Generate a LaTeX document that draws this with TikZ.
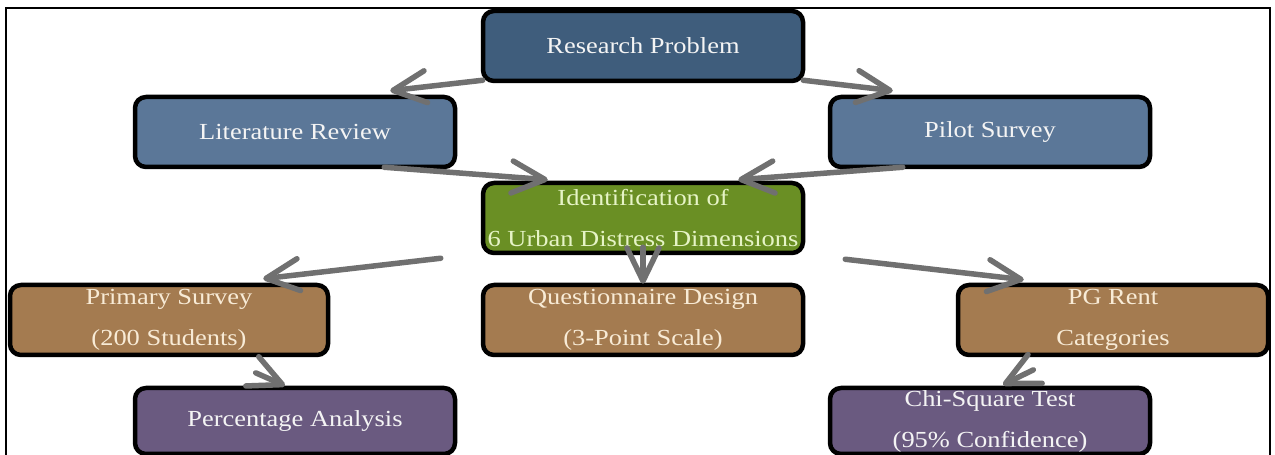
\documentclass[tikz,border=0pt]{standalone}
\usepackage{fontspec}
\setmainfont{Liberation Serif}[FakeStretch=1.15]
\usetikzlibrary{arrows.meta,calc}

\definecolor{problemblue}{HTML}{3F5D7C}
\definecolor{stepblue}{HTML}{5B7798}
\definecolor{idgreen}{HTML}{6A8F24}
\definecolor{surveybrown}{HTML}{A47B50}
\definecolor{analysispurple}{HTML}{6A5A80}
\definecolor{flowgray}{HTML}{707070}
\definecolor{paletext}{HTML}{F4F4F4}
\definecolor{greentext}{HTML}{E6F4C6}
\definecolor{beigetext}{HTML}{F8EBD6}

\begin{document}
\begin{tikzpicture}[x=1pt,y=1pt,
  box/.style={draw=black, line width=4.5pt, rounded corners=11pt,
    minimum width=320pt, minimum height=70pt, inner sep=0pt,
    align=center, font=\fontsize{23}{41}\selectfont, text=paletext},
  flow/.style={draw=flowgray, line width=5.5pt, line cap=round,
    -{Straight Barb[length=33pt,width=32pt,round]}}]

\useasboundingbox (0,0) rectangle (1275,455);
\fill[white] (0,0) rectangle (1275,455);
\begin{scope}
  \clip (0,0) rectangle (1275,455);
  \draw[line width=1.8pt] (6,-20) rectangle (1270,447);
\end{scope}

% process boxes
\node[box, fill=problemblue] (rp) at (643,409) {Research Problem};
\node[box, fill=stepblue] (lr) at (295,323) {Literature Review};
\node[box, fill=stepblue] (ps) at (990,323) {Pilot Survey};
\node[box, fill=idgreen, text=greentext] (id) at (643,237)
  {Identification of\\6 Urban Distress Dimensions};
\node[box, fill=surveybrown, text=beigetext, minimum width=318pt] (prs) at (169,135)
  {Primary Survey\\(200 Students)};
\node[box, fill=surveybrown, text=beigetext] (qd) at (643,135)
  {Questionnaire Design\\(3-Point Scale)};
\node[box, fill=surveybrown, text=beigetext, minimum width=310pt] (pg) at (1113,135)
  {PG Rent\\Categories};
\node[box, fill=analysispurple, minimum height=66pt] (pa) at (295,34) {Percentage Analysis};
\node[box, fill=analysispurple, minimum height=66pt] (cs) at (990,34)
  {Chi-Square Test\\(95\% Confidence)};

% connectors
\draw[flow] ($(rp.south west)+(2,3)$) -- ($(lr.north east)+(-67,4)$);
\draw[flow] ($(rp.south east)+(-2,3)$) -- ($(ps.north west)+(65,4)$);
\draw[flow] ($(lr.south east)+(-73,2)$) -- ($(id.north west)+(67,1)$);
\draw[flow] ($(ps.south west)+(75,2)$) -- ($(id.north east)+(-67,1)$);
\draw[flow] ($(id.south west)+(-40,-3)$) -- ($(prs.north east)+(-67,4)$);
\draw[flow] ($(id.south)+(0,8)$) -- ($(qd.north)+(0,-1)$);
\draw[flow] ($(id.south east)+(40,-4)$) -- ($(pg.north west)+(68,3)$);
\draw[flow] ($(prs.south east)+(-74.5,-15.6)$) -- ($(pa.north)+(-10,0)$);
\draw[flow] ($(pg.south)+(-79.7,-12.6)$) -- ($(cs.north)+(13,1)$);
\end{tikzpicture}
\end{document}
